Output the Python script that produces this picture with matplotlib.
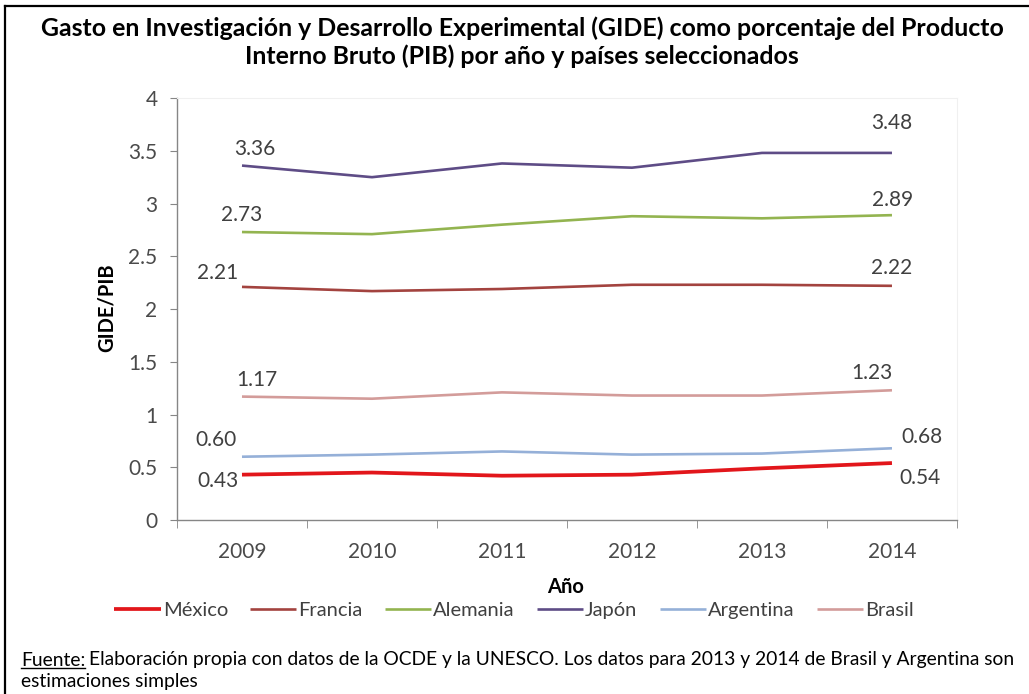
import numpy as np
import matplotlib.pyplot as plt
from matplotlib.lines import Line2D

plt.rcParams['font.family'] = ['Lato', 'DejaVu Sans']

years = ['2009', '2010', '2011', '2012', '2013', '2014']
paises = ['México', 'Francia', 'Alemania', 'Japón', 'Argentina', 'Brasil']
mexico = [0.43, 0.45, 0.42, 0.43, 0.49, 0.54]
francia = [2.21, 2.17, 2.19, 2.23, 2.23, 2.22]
alemania = [2.73, 2.71, 2.80, 2.88, 2.86, 2.89]
japon = [3.36, 3.25, 3.38, 3.34, 3.48, 3.48]
argentina = [0.60, 0.62, 0.65, 0.62, 0.63, 0.68]
brasil = [1.17, 1.15, 1.21, 1.18, 1.18, 1.23]

series = [mexico, francia, alemania, japon, argentina, brasil]
colores = ['#E2161B', '#A3433F', '#93B450', '#5E4C86', '#95B0D8', '#D39C9A']
grosor = [2.7, 1.9, 1.9, 1.9, 1.9, 1.9]
# label offsets in pixels (first point, last point)
off_ini = [(-24, -6), (-24, 14), (0, 17), (13, 17), (-26, 17), (15, 17)]
off_fin = [(28, -15), (0, 18), (1, 15), (0, 30), (30, 11), (-20, 17)]

W, H = 1029, 694
fig = plt.figure(figsize=(10.29, 6.94), dpi=100)
ax = fig.add_axes([0.172, 0.2507, 0.758, 0.608])

x = np.arange(len(years))
for s, c, lw, nombre, o1, o2 in zip(series, colores, grosor, paises, off_ini, off_fin):
    ax.plot(x, s, color=c, lw=lw, label=nombre, solid_capstyle='butt')
    ax.annotate('{:.2f}'.format(s[0]), (x[0], s[0]), xytext=o1, textcoords='offset pixels',
                ha='center', va='center', fontsize=15, color='#404040')
    ax.annotate('{:.2f}'.format(s[-1]), (x[-1], s[-1]), xytext=o2, textcoords='offset pixels',
                ha='center', va='center', fontsize=15, color='#404040')

ax.set_xlim(-0.5, 5.5)
ax.set_ylim(0, 4)
ax.set_yticks(np.arange(0, 4.01, 0.5))
ax.set_yticklabels(['0', '0.5', '1', '1.5', '2', '2.5', '3', '3.5', '4'])
ax.set_xticks(x)
ax.set_xticklabels(years)
ax.set_xticks(np.arange(-0.5, 5.6, 1), minor=True)
ax.tick_params(axis='x', which='major', length=0, pad=16, labelsize=15, labelcolor='#4A4A4A')
ax.tick_params(axis='x', which='minor', length=6, color='#868686', direction='out')
ax.tick_params(axis='y', length=5, color='#868686', pad=9, labelsize=15, labelcolor='#4A4A4A')

for lado in ['top', 'right']:
    ax.spines[lado].set_color('#F0F0F0')
    ax.spines[lado].set_linewidth(0.8)
for lado in ['left', 'bottom']:
    ax.spines[lado].set_color('#868686')
    ax.spines[lado].set_linewidth(1.0)

fig.text(107 / W, 1 - 308 / H, 'GIDE/PIB', rotation=90, ha='center', va='center',
         fontsize=14.5, fontweight='bold')
fig.text(566 / W, 1 - 587 / H, 'Año', ha='center', va='center', fontsize=14.5, fontweight='bold')

fig.legend(loc='center', bbox_to_anchor=(514 / W, 1 - 610 / H), ncol=6, frameon=False,
           fontsize=14.5, handlelength=2.3, handletextpad=0.1, columnspacing=1.1,
           labelcolor='#404040')

fig.text(522 / W, 1 - 28 / H, 'Gasto en Investigación y Desarrollo Experimental (GIDE) como porcentaje del Producto',
         ha='center', va='center', fontsize=17.9, fontweight='bold')
fig.text(522 / W, 1 - 56 / H, 'Interno Bruto (PIB) por año y países seleccionados',
         ha='center', va='center', fontsize=17.9, fontweight='bold')

# footnote with underlined "Fuente:"
fuente = fig.text(21 / W, 1 - 660 / H, 'Fuente:', ha='left', va='center', fontsize=13.9)
fig.canvas.draw()
bb = fuente.get_window_extent()
fig.text(bb.x1 / W + 4 / W, 1 - 660 / H,
         'Elaboración propia con datos de la OCDE y la UNESCO. Los datos para 2013 y 2014 de Brasil y Argentina son',
         ha='left', va='center', fontsize=13.9)
fig.add_artist(Line2D([bb.x0 / W, bb.x1 / W], [(bb.y0 + 1) / H, (bb.y0 + 1) / H], color='black', lw=1.0,
                      transform=fig.transFigure))
fig.text(21 / W, 1 - 682 / H, 'estimaciones simples', ha='left', va='center', fontsize=13.9)

# frame
fig.add_artist(Line2D([5 / W, 1], [1 - 6 / H, 1 - 6 / H], color='black', lw=1.6, transform=fig.transFigure))
fig.add_artist(Line2D([5 / W, 5 / W], [0, 1 - 6 / H], color='black', lw=1.6, transform=fig.transFigure))

fig.savefig('out.png', dpi=100)
